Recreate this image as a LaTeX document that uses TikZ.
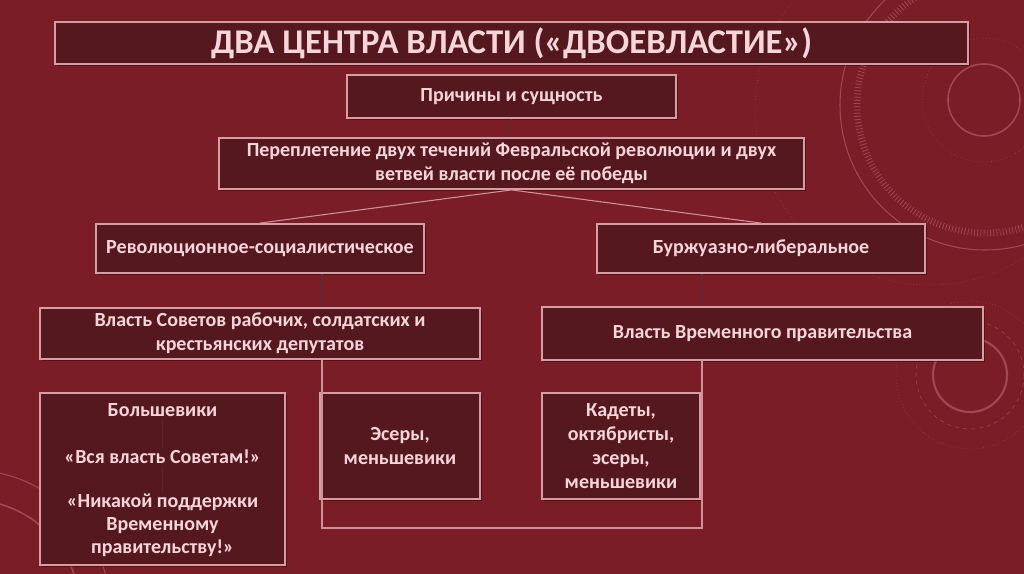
\documentclass[tikz,border=0pt]{standalone}
\usepackage{fontspec}
\setmainfont{Carlito}
\usetikzlibrary{positioning,shadows}
\definecolor{bgred}{RGB}{122,29,39}
\definecolor{boxfill}{RGB}{86,24,31}
\definecolor{boxedge}{RGB}{214,158,163}
\definecolor{txtpink}{RGB}{247,214,217}
\definecolor{linkpink}{RGB}{204,146,152}
\definecolor{linkdark}{RGB}{92,42,48}
\definecolor{decor}{RGB}{205,125,133}

\begin{document}
\begin{tikzpicture}[
  x=0.75pt, y=-0.75pt,
  box/.style 2 args={draw=boxedge, fill=boxfill, line width=1.4pt, text=txtpink, align=center,
    font=\bfseries\fontsize{15}{17.8}\selectfont, inner sep=2pt,
    minimum width=#1*0.75pt, minimum height=#2*0.75pt,
    drop shadow={shadow xshift=1.2pt, shadow yshift=-1.2pt, opacity=0.35, fill=black}},
  lbl/.style={text=txtpink, align=center, font=\bfseries\fontsize{15}{17.3}\selectfont, inner sep=1pt},
  link/.style={draw=linkpink, line width=0.8pt},
  darklink/.style={draw=linkdark, line width=0.8pt},
  deco/.style={draw=decor, opacity=0.45}
]
% background
\fill[bgred] (0,0) rectangle (1024,574);
\useasboundingbox (0,0) rectangle (1024,574);

% decorative rings
\begin{scope}
\clip (0,0) rectangle (1024,574);
\draw[deco, line width=1.2pt] (984,100) circle (36);
\draw[deco, dotted] (984,100) circle (62);
\draw[deco, line width=5pt, dash pattern=on 0.6pt off 1.8pt] (985,105) circle (128);
\draw[deco, line width=0.8pt] (985,105) circle (145);
\draw[deco, dotted] (930,110) circle (175);
\draw[deco, line width=1.6pt] (970,375) circle (37);
\draw[deco, dashed] (970,375) circle (54);
\draw[deco, dotted] (970,375) circle (74);
\draw[deco, line width=1.2pt] (-30,610) circle (110);
\draw[deco, line width=0.8pt] (-30,610) circle (140);
\end{scope}

% boxes
\node[box={913}{42}, font=\bfseries\fontsize{26}{30}\selectfont] (title) at (511.5,43) {ДВА ЦЕНТРА ВЛАСТИ («ДВОЕВЛАСТИЕ»)};
\node[box={329}{43}] (cause) at (511.5,96.5) {Причины и сущность};
\node[box={585}{51}] (mix) at (511.5,163.5) {Переплетение двух течений Февральской революции и двух\\ветвей власти после её победы};
\node[box={328}{49}] (revsoc) at (260,248.5) {Революционное-социалистическое};
\node[box={328}{49}] (bourg) at (761,248.5) {Буржуазно-либеральное};
\node[box={440}{51}] (soviets) at (260,333.5) {Власть Советов рабочих, солдатских и\\крестьянских депутатов};
\node[box={441}{53}] (provgov) at (762.5,333.5) {Власть Временного правительства};
\node[box={245}{172}] (bolsh) at (162.5,479) {};
\node[box={160}{106}] (ser) at (400,446) {Эсеры,\\меньшевики};
\node[box={158}{106}] (kadet) at (621,446) {Кадеты,\\октябристы,\\эсеры,\\меньшевики};

% texts inside the Bolshevik box
\node[lbl] (bolsh1) at (162.5,410) {Большевики};
\node[lbl] (bolsh2) at (162.5,457) {«Вся власть Советам!»};
\node[lbl] (bolsh3) at (162.5,525) {«Никакой поддержки\\Временному\\правительству!»};

% joints
\coordinate (jl) at (322,528);
\coordinate (jr) at (702,528);

% connectors
\draw[darklink] (cause) -- (mix);
\draw[link] (mix.south) -- (revsoc.north);
\draw[link] (mix.south) -- (bourg.north);
\draw[darklink] (revsoc.south -| jl) -- (soviets.north -| jl);
\draw[darklink] (bourg.south -| jr) -- (provgov.north -| jr);
\draw[link] (soviets.south -| jl) -- (jl) -- (jr) -- (provgov.south -| jr);
\draw[darklink, opacity=0.7] (bolsh1) -- (bolsh2);
\draw[darklink, opacity=0.7] (bolsh2) -- (bolsh3);
\end{tikzpicture}
\end{document}
